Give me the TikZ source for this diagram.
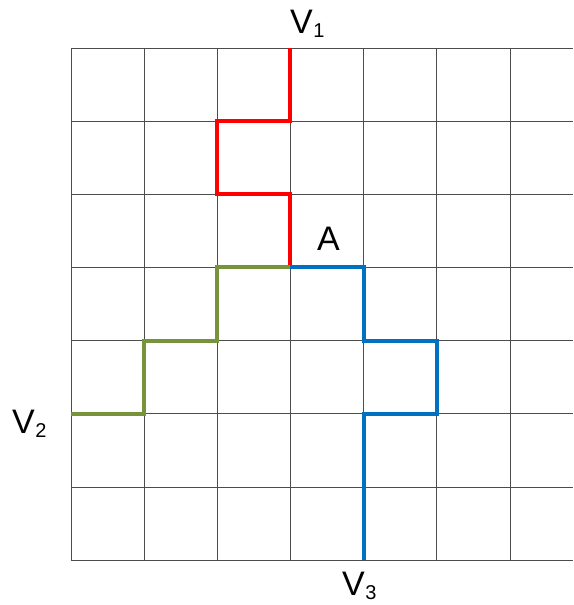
\documentclass[tikz,border=0pt]{standalone}
\usepackage{fontspec}
\setmainfont{Liberation Sans}
\newcommand{\lbl}[2]{#1\kern0.5pt\raisebox{-4pt}{\fontsize{20}{20}\selectfont #2}}
\begin{document}
\begin{tikzpicture}[x=1pt,y=-1pt,
  gridline/.style={draw=black!70,line width=0.8pt},
  pathline/.style={line width=4pt,line join=miter},
  lab/.style={anchor=base west,inner sep=0pt,font=\fontsize{34}{34}\selectfont}]
\useasboundingbox[fill=white] (0,0) rectangle (573,605);
\def\g{73.15}
% grid
\foreach \i in {0,...,6} {
  \draw[gridline] ({71+\i*\g},48) -- ({71+\i*\g},{48+7*\g});
}
\foreach \j in {0,...,7} {
  \draw[gridline] (71,{48+\j*\g}) -- (573,{48+\j*\g});
}
% path vertices
\coordinate (V1) at ({71+3*\g},48);
\coordinate (r1) at ({71+3*\g},{48+1*\g});
\coordinate (r2) at ({71+2*\g},{48+1*\g});
\coordinate (r3) at ({71+2*\g},{48+2*\g});
\coordinate (r4) at ({71+3*\g},{48+2*\g});
\coordinate (A) at ({71+3*\g},{48+3*\g});
\coordinate (V2) at (71,{48+5*\g});
\coordinate (g1) at ({71+1*\g},{48+5*\g});
\coordinate (g2) at ({71+1*\g},{48+4*\g});
\coordinate (g3) at ({71+2*\g},{48+4*\g});
\coordinate (g4) at ({71+2*\g},{48+3*\g});
\coordinate (b1) at ({71+4*\g},{48+3*\g});
\coordinate (b2) at ({71+4*\g},{48+4*\g});
\coordinate (b3) at ({71+5*\g},{48+4*\g});
\coordinate (b4) at ({71+5*\g},{48+5*\g});
\coordinate (b5) at ({71+4*\g},{48+5*\g});
\coordinate (V3) at ({71+4*\g},{48+7*\g});
% paths
\draw[pathline,draw={rgb,255:red,255;green,0;blue,0}] (V1) -- (r1) -- (r2) -- (r3) -- (r4) -- (A);
\draw[pathline,draw={rgb,255:red,119;green,147;blue,60}] (V2) -- (g1) -- (g2) -- (g3) -- (g4) -- (A);
\draw[pathline,draw={rgb,255:red,0;green,112;blue,192}] (A) -- (b1) -- (b2) -- (b3) -- (b4) -- (b5) -- (V3);
% labels
\node[lab] (lV1) at (290,33) {\lbl{V}{1}};
\node[lab] (lV2) at (12,433) {\lbl{V}{2}};
\node[lab] (lV3) at (342,595) {\lbl{V}{3}};
\node[lab] (lA) at (317,250) {A};
\end{tikzpicture}
\end{document}
